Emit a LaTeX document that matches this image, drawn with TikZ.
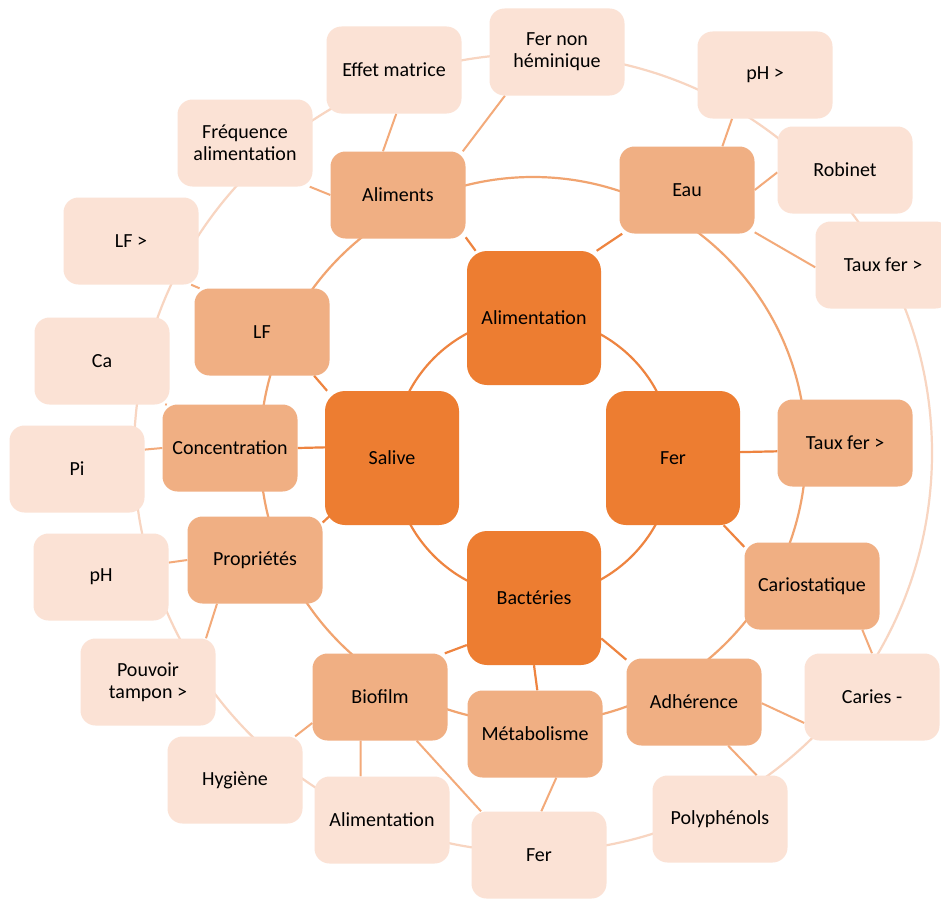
\documentclass[tikz,border=0pt]{standalone}
\usepackage{fontspec}
\setmainfont{Carlito}
\usetikzlibrary{backgrounds}
\definecolor{cDark}{HTML}{ED7D31}
\definecolor{cMid}{HTML}{F0AF83}
\definecolor{cLight}{HTML}{FBE2D5}
\definecolor{lDark}{HTML}{EE8440}
\definecolor{lRing}{HTML}{F1A470}
\definecolor{lMid}{HTML}{F3AA7A}
\definecolor{lLight}{HTML}{F8D5C1}
\begin{document}
\begin{tikzpicture}[x=1pt,y=-1pt,
  base/.style={rounded corners=15pt, inner sep=0pt, align=center,
    font=\fontsize{20}{22}\selectfont, text=black},
  central/.style={base, fill=cDark, minimum width=134pt, minimum height=134pt, rounded corners=20pt},
  middle/.style={base, fill=cMid, minimum width=135pt, minimum height=87pt},
  outer/.style={base, fill=cLight, minimum width=135pt, minimum height=87pt},
  spkA/.style={draw=lDark, line width=2.2pt},
  spkB/.style={draw=lMid, line width=2pt},
  ringA/.style={draw=lDark, line width=2.2pt},
  ringB/.style={draw=lRing, line width=2.2pt},
  ringC/.style={draw=lLight, line width=2.2pt}]
\useasboundingbox (0,0) rectangle (941,899);
\clip (0,0) rectangle (941,899);

% centres of the rings
\coordinate (Oin) at (533,457);
\coordinate (Omid) at (533,450);
\coordinate (Oout) at (533,453);

% central nodes
\node[central] (alimC) at (534,318) {Alimentation};
\node[central] (salive) at (392,458) {Salive};
\node[central] (ferC) at (673,458) {Fer};
\node[central] (bact) at (534,598) {Bactéries};

% middle nodes
\node[middle] (aliments) at (398,195) {Aliments};
\node[middle] (eau) at (687,190) {Eau};
\node[middle] (lf) at (262,332) {LF};
\node[middle] (conc) at (230,448) {Concentration};
\node[middle] (prop) at (255,560) {Propriétés};
\node[middle] (tauxM) at (845,443) {Taux fer >};
\node[middle] (cario) at (812,586) {Cariostatique};
\node[middle] (bio) at (380,697) {Biofilm};
\node[middle] (meta) at (535,734) {Métabolisme};
\node[middle] (adh) at (694,702) {Adhérence};

% outer nodes
\node[outer] (effet) at (394,70) {Effet matrice};
\node[outer] (fernh) at (557,52) {Fer non\\héminique};
\node[outer] (phG) at (765,75) {pH >};
\node[outer] (rob) at (845,170) {Robinet};
\node[outer] (tauxO) at (883,265) {Taux fer >};
\node[outer] (freq) at (245,143) {Fréquence\\alimentation};
\node[outer] (lfG) at (131,241) {LF >};
\node[outer] (ca) at (102,361) {Ca};
\node[outer] (pi) at (77,469) {Pi};
\node[outer] (ph) at (101,577) {pH};
\node[outer] (pouv) at (148,682) {Pouvoir\\tampon >};
\node[outer] (hyg) at (235,780) {Hygiène};
\node[outer] (alimO) at (382,820) {Alimentation};
\node[outer] (ferO) at (539,855) {Fer};
\node[outer] (poly) at (720,819) {Polyphénols};
\node[outer] (caries) at (872,697) {Caries -};

\begin{scope}[on background layer]
  \fill[white] (0,0) rectangle (941,899);
  \draw[ringC] (Oout) circle[radius=399pt];
  \draw[ringB] (Omid) circle[radius=273pt];
  \draw[ringA] (Oin) circle[radius=140pt];
  % central to middle
  \draw[spkA] (alimC.131) -- (aliments.-32);
  \draw[spkA] (alimC.47) -- (eau.-146);
  \draw[spkA] (salive.134) -- (lf.-40);
  \draw[spkA] (salive.171) -- (conc.0);
  \draw[spkA] (salive.center) -- (prop.29);
  \draw[spkA] (ferC.5) -- (tauxM.-173);
  \draw[spkA] (ferC.-53) -- (cario.150);
  \draw[spkA] (bact.-145) -- (bio.34);
  \draw[spkA] (bact.-90) -- (meta.87);
  \draw[spkA] (bact.-31) -- (adh.148);
  % middle to outer
  \draw[spkB] (aliments.109) -- (effet.-87);
  \draw[spkB] (aliments.180) -- (freq.-34);
  \draw[spkB] (aliments.34) -- (fernh.-140);
  \draw[spkB] (eau.51) -- (phG.-127);
  \draw[spkB] (eau.0) -- (rob.-178);
  \draw[spkB] (eau.-32) -- (tauxO.-178);
  \draw[spkB] (lf.145) -- (lfG.-36);
  \draw[spkB] (conc.146) -- (ca.-34);
  \draw[spkB] (conc.180) -- (pi.16);
  \draw[spkB] (prop.180) -- (ph.12);
  \draw[spkB] (prop.-131) -- (pouv.37);
  \draw[spkB] (bio.-159) -- (hyg.36);
  \draw[spkB] (bio.-114) -- (alimO.116);
  \draw[spkB] (bio.-50) -- (ferO.143);
  \draw[spkB] (meta.-64) -- (ferO.87);
  \draw[spkB] (adh.-52) -- (poly.50);
  \draw[spkB] (adh.-1) -- (caries.-159);
  \draw[spkB] (cario.-41) -- (caries.90);
\end{scope}
\end{tikzpicture}
\end{document}
